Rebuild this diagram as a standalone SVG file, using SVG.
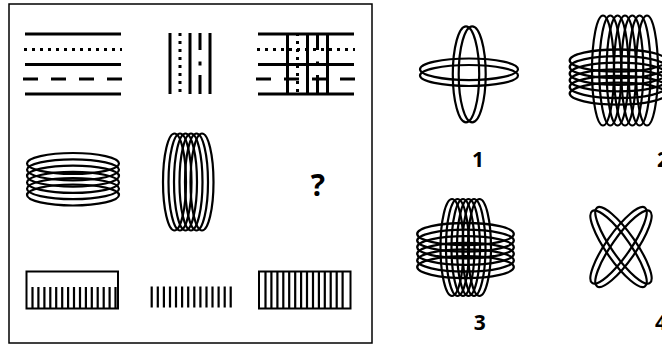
<svg xmlns="http://www.w3.org/2000/svg" xmlns:xlink="http://www.w3.org/1999/xlink" width="662" height="345" viewBox="0 0 662 345">
<style>
.ln{stroke:#000;stroke-width:3;fill:none}
.dot{stroke:#000;stroke-width:3;fill:none;stroke-dasharray:3 5}
.dash{stroke:#000;stroke-width:3;fill:none;stroke-dasharray:15 13}
.el{stroke:#000;stroke-width:2.2;fill:none}
.tk{stroke:#000;stroke-width:2.2;fill:none}
.box{stroke:#000;stroke-width:2;fill:none}
.lbl{font-family:"Open Sans","Liberation Sans",sans-serif;font-weight:bold;font-size:21px;fill:#000;text-anchor:middle}
</style>
<defs>
<g id="hlines">
<line class="ln" x1="25" y1="34" x2="121" y2="34"/>
<line class="dot" x1="24" y1="49.5" x2="122" y2="49.5"/>
<line class="ln" x1="25" y1="64.5" x2="121" y2="64.5"/>
<line class="dash" x1="23" y1="79" x2="122" y2="79"/>
<line class="ln" x1="25" y1="94" x2="121" y2="94"/>
</g>
<g id="vlines">
<line class="ln" x1="170" y1="33" x2="170" y2="94"/>
<line class="dot" x1="180" y1="33" x2="180" y2="95"/>
<line class="ln" x1="190" y1="33" x2="190" y2="94"/>
<path class="ln" d="M200 33V50M200 61.5V65.5M200 75V94"/>
<line class="ln" x1="210" y1="33" x2="210" y2="94"/>
</g>
<g id="hcoil">
<ellipse class="el" cx="0" cy="0" rx="46" ry="10.5"/>
<ellipse class="el" cx="0" cy="6.3" rx="46" ry="10.5"/>
<ellipse class="el" cx="0" cy="12.6" rx="46" ry="10.5"/>
<ellipse class="el" cx="0" cy="18.9" rx="46" ry="10.5"/>
<ellipse class="el" cx="0" cy="25.2" rx="46" ry="10.5"/>
<ellipse class="el" cx="0" cy="31.5" rx="46" ry="10.5"/>
</g>
<g id="vcoil">
<ellipse class="el" cx="0" cy="0" rx="11.5" ry="48.5"/>
<ellipse class="el" cx="5.5" cy="0" rx="11.5" ry="48.5"/>
<ellipse class="el" cx="11" cy="0" rx="11.5" ry="48.5"/>
<ellipse class="el" cx="16.5" cy="0" rx="11.5" ry="48.5"/>
<ellipse class="el" cx="22" cy="0" rx="11.5" ry="48.5"/>
<ellipse class="el" cx="27.5" cy="0" rx="11.5" ry="48.5"/>
</g>
<path id="ticks15" class="tk" d="M32.5 0v21M38.4 0v21M44.4 0v21M50.3 0v21M56.2 0v21M62.2 0v21M68.1 0v21M74 0v21M80 0v21M85.9 0v21M91.8 0v21M97.7 0v21M103.7 0v21M109.6 0v21M115.5 0v21"/>
</defs>

<rect x="9" y="4" width="363" height="339" fill="none" stroke="#000" stroke-width="1.5"/>

<g id="r1c1"><use xlink:href="#hlines"/></g>
<g id="r1c2"><use xlink:href="#vlines"/></g>
<g id="r1c3"><use xlink:href="#hlines" transform="translate(233,0)"/><use xlink:href="#vlines" transform="translate(117.5,0)"/></g>

<g id="r2c1"><use xlink:href="#hcoil" transform="translate(73,163.5)"/></g>
<g id="r2c2"><use xlink:href="#vcoil" transform="translate(174.5,182)"/></g>
<g id="r2c3"><text x="318" y="196" font-family="Open Sans,Liberation Sans,sans-serif" font-weight="bold" font-size="30" text-anchor="middle">?</text></g>

<g id="r3c1"><rect class="box" x="26.5" y="271.5" width="91.5" height="37"/><use xlink:href="#ticks15" transform="translate(0,287)"/></g>
<g id="r3c2"><path class="tk" stroke-width="2.6" d="M151.7 286.5v21M157.8 286.5v21M163.9 286.5v21M170 286.5v21M176 286.5v21M182.1 286.5v21M188.2 286.5v21M194.3 286.5v21M200.4 286.5v21M206.5 286.5v21M212.5 286.5v21M218.6 286.5v21M224.7 286.5v21M230.7 286.5v21"/></g>
<g id="r3c3"><rect class="box" x="259" y="271.5" width="91.5" height="37"/><path class="tk" d="M265.5 271.5v37M271.4 271.5v37M277.4 271.5v37M283.3 271.5v37M289.2 271.5v37M295.2 271.5v37M301.1 271.5v37M307 271.5v37M313 271.5v37M318.9 271.5v37M324.8 271.5v37M330.7 271.5v37M336.7 271.5v37M342.6 271.5v37"/></g>

<g id="opt1">
<ellipse class="el" cx="469" cy="69.3" rx="49" ry="10.8"/>
<ellipse class="el" cx="469" cy="75.5" rx="49" ry="10.5"/>
<ellipse class="el" cx="466" cy="74.3" rx="13.2" ry="48"/>
<ellipse class="el" cx="472.2" cy="74.3" rx="13.5" ry="48"/>
<text class="lbl" x="478" y="166.5">1</text>
</g>

<g id="opt2">
<use xlink:href="#hcoil" transform="translate(618,60.5) scale(1.05,1.05)"/>
<ellipse class="el" cx="603" cy="70.5" rx="11" ry="55"/>
<ellipse class="el" cx="610.3" cy="70.5" rx="11" ry="55"/>
<ellipse class="el" cx="617.6" cy="70.5" rx="11" ry="55"/>
<ellipse class="el" cx="625" cy="70.5" rx="11" ry="55"/>
<ellipse class="el" cx="632.3" cy="70.5" rx="11" ry="55"/>
<ellipse class="el" cx="639.6" cy="70.5" rx="11" ry="55"/>
<ellipse class="el" cx="647" cy="70.5" rx="11" ry="55"/>
<text class="lbl" x="663" y="166.5">2</text>
</g>

<g id="opt3">
<use xlink:href="#hcoil" transform="translate(465.5,234) scale(1.05,1.05)"/>
<use xlink:href="#vcoil" transform="translate(452,247.5)"/>
<text class="lbl" x="479.7" y="330">3</text>
</g>

<g id="opt4">
<ellipse class="el" cx="618" cy="247" rx="12" ry="46" transform="rotate(35 621 247)"/>
<ellipse class="el" cx="624" cy="247" rx="12" ry="46" transform="rotate(35 621 247)"/>
<ellipse class="el" cx="618" cy="247" rx="12" ry="46" transform="rotate(-35 621 247)"/>
<ellipse class="el" cx="624" cy="247" rx="12" ry="46" transform="rotate(-35 621 247)"/>
<text class="lbl" x="661" y="330">4</text>
</g>
</svg>
